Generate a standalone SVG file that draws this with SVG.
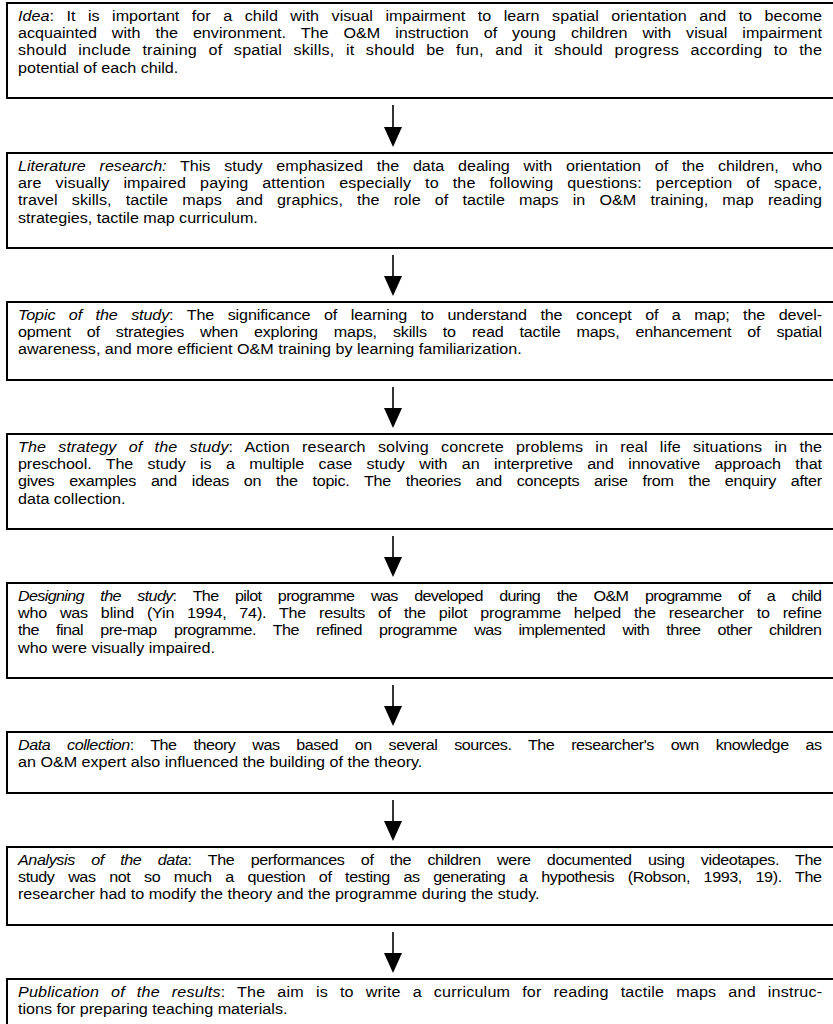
<svg xmlns="http://www.w3.org/2000/svg" width="833" height="1024" viewBox="0 0 833 1024">
<style>
.box{fill:#fff;stroke:#000;stroke-width:2}
.t{font-family:"Liberation Sans",Arial,Helvetica,sans-serif;font-size:15.5px;fill:#000}
.i{font-style:italic}
.conn{stroke:#000;stroke-width:1.6;fill:none}
</style>
<defs>
<marker id="ah" viewBox="0 0 20 18" refX="10" refY="9" markerWidth="20" markerHeight="18" markerUnits="userSpaceOnUse" orient="auto">
<path d="M0,0 L20,9 L0,18 Z" fill="#000"/>
</marker>
</defs>
<rect width="833" height="1024" fill="#fff"/>
<g id="connectors">
<line class="conn" x1="393" y1="105" x2="393" y2="137" marker-end="url(#ah)"/>
<line class="conn" x1="393" y1="255" x2="393" y2="286" marker-end="url(#ah)"/>
<line class="conn" x1="393" y1="387" x2="393" y2="418" marker-end="url(#ah)"/>
<line class="conn" x1="393" y1="536" x2="393" y2="567" marker-end="url(#ah)"/>
<line class="conn" x1="393" y1="685" x2="393" y2="716" marker-end="url(#ah)"/>
<line class="conn" x1="393" y1="800" x2="393" y2="831" marker-end="url(#ah)"/>
<line class="conn" x1="393" y1="932" x2="393" y2="963" marker-end="url(#ah)"/>
</g>
<g id="node-idea">
<rect class="box" x="7" y="3" width="830" height="95"/>
<g transform="translate(18 0) scale(1.04 1)">
<text class="t" x="0" y="21" word-spacing="7.7" textLength="773.1" lengthAdjust="spacing"><tspan class="i">Idea</tspan>: It is important for a child with visual impairment to learn spatial orientation and to become</text>
<text class="t" x="0" y="38.2" word-spacing="10.1" textLength="773.1" lengthAdjust="spacing">acquainted with the environment. The O&amp;M instruction of young children with visual impairment</text>
<text class="t" x="0" y="55.4" word-spacing="6.5" textLength="773.1" lengthAdjust="spacing">should include training of spatial skills, it should be fun, and it should progress according to the</text>
<text class="t" x="0" y="72.6">potential of each child.</text>
</g>
</g>
<g id="node-literature">
<rect class="box" x="7" y="153" width="830" height="95"/>
<g transform="translate(18 0) scale(1.04 1)">
<text class="t" x="0" y="171" word-spacing="9" textLength="773.1" lengthAdjust="spacing"><tspan class="i">Literature research:</tspan> This study emphasized the data dealing with orientation of the children, who</text>
<text class="t" x="0" y="188.2" word-spacing="9" textLength="773.1" lengthAdjust="spacing">are visually impaired paying attention especially to the following questions: perception of space,</text>
<text class="t" x="0" y="205.4" word-spacing="9.2" textLength="773.1" lengthAdjust="spacing">travel skills, tactile maps and graphics, the role of tactile maps in O&amp;M training, map reading</text>
<text class="t" x="0" y="222.6">strategies, tactile map curriculum.</text>
</g>
</g>
<g id="node-topic">
<rect class="box" x="7" y="302" width="830" height="78"/>
<g transform="translate(18 0) scale(1.04 1)">
<text class="t" x="0" y="320" word-spacing="8.8" textLength="773.1" lengthAdjust="spacing"><tspan class="i">Topic of the study</tspan>: The significance of learning to understand the concept of a map; the devel-</text>
<text class="t" x="0" y="337.2" word-spacing="11.2" textLength="773.1" lengthAdjust="spacing">opment of strategies when exploring maps, skills to read tactile maps, enhancement of spatial</text>
<text class="t" x="0" y="354.4">awareness, and more efficient O&amp;M training by learning familiarization.</text>
</g>
</g>
<g id="node-strategy">
<rect class="box" x="7" y="434" width="830" height="95"/>
<g transform="translate(18 0) scale(1.04 1)">
<text class="t" x="0" y="452" word-spacing="7.3" textLength="773.1" lengthAdjust="spacing"><tspan class="i">The strategy of the study</tspan>: Action research solving concrete problems in real life situations in the</text>
<text class="t" x="0" y="469.2" word-spacing="9.6" textLength="773.1" lengthAdjust="spacing">preschool. The study is a multiple case study with an interpretive and innovative approach that</text>
<text class="t" x="0" y="486.4" word-spacing="10.1" textLength="773.1" lengthAdjust="spacing">gives examples and ideas on the topic. The theories and concepts arise from the enquiry after</text>
<text class="t" x="0" y="503.6">data collection.</text>
</g>
</g>
<g id="node-designing">
<rect class="box" x="7" y="583" width="830" height="95"/>
<g transform="translate(18 0) scale(1.04 1)">
<text class="t" x="0" y="601" word-spacing="12.2" textLength="773.1" lengthAdjust="spacing"><tspan class="i">Designing the study</tspan>: The pilot programme was developed during the O&amp;M programme of a child</text>
<text class="t" x="0" y="618.2" word-spacing="8.3" textLength="773.1" lengthAdjust="spacing">who was blind (Yin 1994, 74). The results of the pilot programme helped the researcher to refine</text>
<text class="t" x="0" y="635.4" word-spacing="12.6" textLength="773.1" lengthAdjust="spacing">the final pre-map programme. The refined programme was implemented with three other children</text>
<text class="t" x="0" y="652.6">who were visually impaired.</text>
</g>
</g>
<g id="node-data-collection">
<rect class="box" x="7" y="732" width="830" height="61"/>
<g transform="translate(18 0) scale(1.04 1)">
<text class="t" x="0" y="750" word-spacing="12.3" textLength="773.1" lengthAdjust="spacing"><tspan class="i">Data collection</tspan>: The theory was based on several sources. The researcher's own knowledge as</text>
<text class="t" x="0" y="767.2">an O&amp;M expert also influenced the building of the theory.</text>
</g>
</g>
<g id="node-analysis">
<rect class="box" x="7" y="847" width="830" height="78"/>
<g transform="translate(18 0) scale(1.04 1)">
<text class="t" x="0" y="865" word-spacing="11.8" textLength="773.1" lengthAdjust="spacing"><tspan class="i">Analysis of the data</tspan>: The performances of the children were documented using videotapes. The</text>
<text class="t" x="0" y="882.2" word-spacing="9.2" textLength="773.1" lengthAdjust="spacing">study was not so much a question of testing as generating a hypothesis (Robson, 1993, 19). The</text>
<text class="t" x="0" y="899.4">researcher had to modify the theory and the programme during the study.</text>
</g>
</g>
<g id="node-publication">
<rect class="box" x="7" y="979" width="830" height="80"/>
<g transform="translate(18 0) scale(1.04 1)">
<text class="t" x="0" y="997" word-spacing="7" textLength="773.1" lengthAdjust="spacing"><tspan class="i">Publication of the results</tspan>: The aim is to write a curriculum for reading tactile maps and instruc-</text>
<text class="t" x="0" y="1014.2">tions for preparing teaching materials.</text>
</g>
</g>
</svg>
